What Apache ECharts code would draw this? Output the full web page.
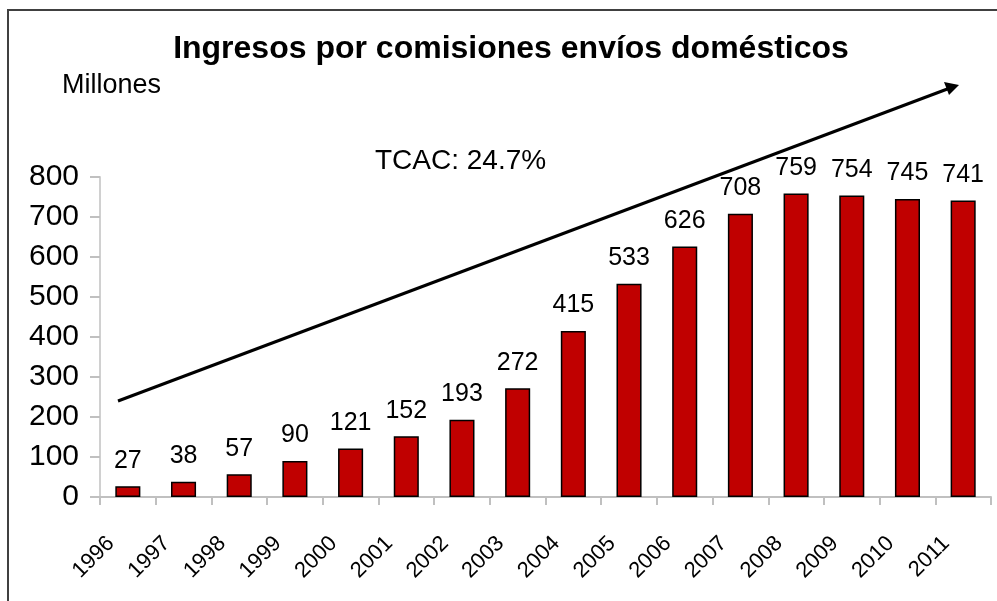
<!DOCTYPE html>
<html>
<head>
<meta charset="utf-8">
<script src="https://cdn.jsdelivr.net/npm/echarts@6/dist/echarts.min.js"></script>
<style>
  html, body { margin: 0; padding: 0; background: #fff; }
  #chart { width: 997px; height: 601px; }
</style>
</head>
<body>
<div id="chart"></div>
<script>
// Datos
const years = ['1996', '1997', '1998', '1999', '2000', '2001', '2002', '2003',
  '2004', '2005', '2006', '2007', '2008', '2009', '2010', '2011'];
const ingresos = [27, 38, 57, 90, 121, 152, 193, 272, 415, 533, 626, 708, 759, 754, 745, 741];
const yTicks = [0, 100, 200, 300, 400, 500, 600, 700, 800];

const font = '"Liberation Sans", Arial, sans-serif';
const chart = echarts.init(document.getElementById('chart'));

const option = {
  backgroundColor: '#fff',
  animation: false,
  textStyle: { fontFamily: font },
  grid: { left: 100, right: 6, top: 177, bottom: 104 },
  xAxis: {
    type: 'category',
    data: years,
    boundaryGap: true,
    axisLine: { lineStyle: { color: '#c0c0c0', width: 2 } },
    axisTick: { show: true, length: 8, lineStyle: { color: '#c0c0c0', width: 2 } },
    axisLabel: {
      interval: 0, rotate: 45, fontSize: 22, color: '#000', margin: 26,
      padding: [0, 24, 0, 0], fontFamily: font
    }
  },
  yAxis: {
    type: 'value',
    min: yTicks[0],
    max: yTicks[yTicks.length - 1],
    interval: 100,
    axisLine: { show: true, lineStyle: { color: '#d0d0d0', width: 2 } },
    axisTick: { show: true, length: 10, lineStyle: { color: '#c0c0c0', width: 2 } },
    splitLine: { show: false },
    axisLabel: { fontSize: 30, color: '#000', margin: 21, fontFamily: font }
  },
  series: [{
    type: 'bar',
    data: ingresos,
    barWidth: '45%',
    itemStyle: { color: '#c00000', borderColor: '#000', borderWidth: 1.5 },
    label: { show: true, position: 'top', distance: 13, fontSize: 25, color: '#000', fontFamily: font }
  }],
  graphic: [
    // marco
    { type: 'polyline', shape: { points: [[8, 601], [8, 10], [997, 10]] },
      style: { stroke: '#404040', lineWidth: 2, fill: null } },
    { type: 'text', x: 511, y: 49,
      style: { text: 'Ingresos por comisiones envíos domésticos', font: 'bold 32px ' + font,
        fill: '#000', textAlign: 'center', textVerticalAlign: 'middle' } },
    { type: 'text', x: 62, y: 86,
      style: { text: 'Millones', font: '27px ' + font, fill: '#000', textVerticalAlign: 'middle' } },
    { type: 'text', x: 375, y: 161,
      style: { text: 'TCAC: 24.7%', font: '28px ' + font, fill: '#000', textVerticalAlign: 'middle' } },
    // flecha de crecimiento
    { type: 'line', shape: { x1: 118, y1: 401, x2: 950, y2: 88 },
      style: { stroke: '#000', lineWidth: 3 } },
    { type: 'polygon', shape: { points: [[959, 85], [944, 82], [949, 95]] },
      style: { fill: '#000' } }
  ]
};

chart.setOption(option);
</script>
</body>
</html>
